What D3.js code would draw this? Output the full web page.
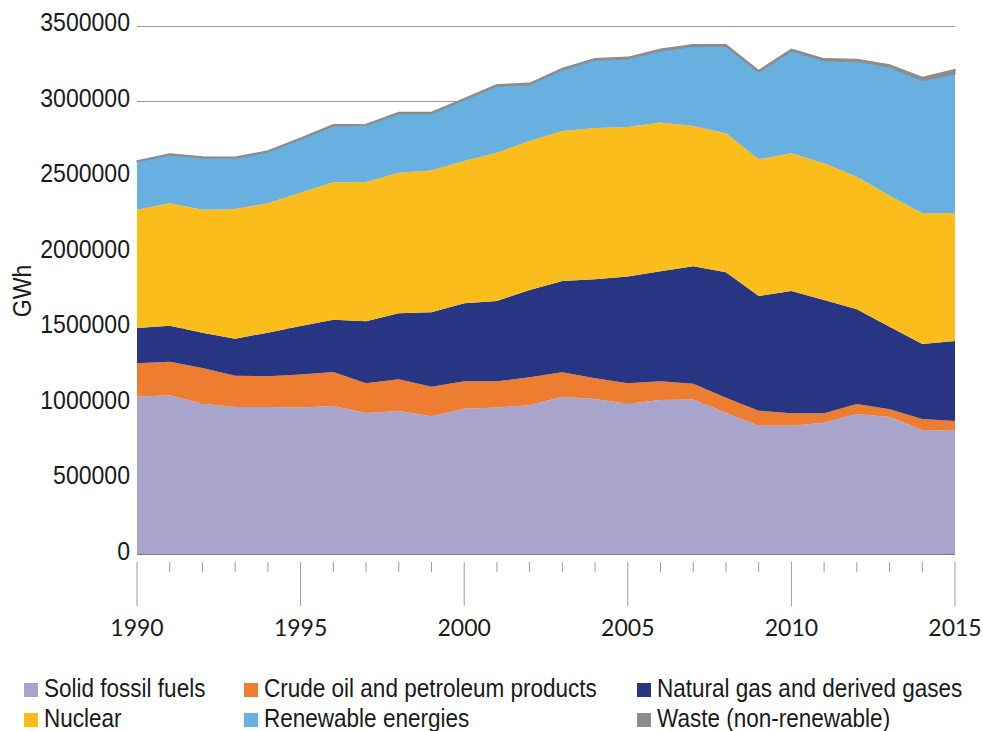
<!DOCTYPE html>
<html>
<head>
<meta charset="utf-8">
<script src="https://cdn.jsdelivr.net/npm/d3@7"></script>
<style>
  body { margin: 0; background: #fff; }
  svg text { fill: #1a1a1a; }
  .cond { font-family: "Liberation Sans", Arial, sans-serif; font-size: 26.5px; }
  .xlab { font-family: Lato, "Open Sans", sans-serif; font-size: 23px; }
</style>
</head>
<body>
<div id="chart"></div>
<script>
var years = [1990,1991,1992,1993,1994,1995,1996,1997,1998,1999,2000,2001,2002,2003,2004,2005,2006,2007,2008,2009,2010,2011,2012,2013,2014,2015];
var solid = [1042000,1051000,995000,973000,973000,971000,980000,934000,947000,912000,962000,971000,985000,1042000,1026000,995000,1020000,1024000,936000,850000,850000,870000,927000,907000,821000,817000];
var oil = [221000,223000,237000,208000,204000,217000,225000,196000,210000,196000,182000,173000,185000,161000,138000,135000,124000,104000,99000,99000,82000,62000,66000,51000,73000,64000];
var gas = [234000,238000,234000,245000,289000,322000,347000,411000,437000,493000,516000,532000,578000,605000,655000,707000,728000,777000,831000,760000,810000,750000,628000,547000,497000,530000];
var nuclear = [783000,811000,814000,859000,857000,883000,910000,923000,931000,938000,943000,982000,987000,993000,1002000,991000,985000,930000,920000,905000,912000,906000,878000,868000,865000,845000];
var renew = [318000,320000,343000,336000,339000,353000,373000,373000,391000,377000,404000,440000,373000,404000,449000,450000,474000,527000,576000,576000,677000,679000,764000,852000,879000,923000];
var waste = [6000,7000,7000,7000,8000,8000,9000,9000,9000,9000,10000,10000,10000,11000,11000,12000,12000,12000,12000,12000,13000,13000,13000,15000,22000,30000];

var seriesNames = ["Solid fossil fuels","Crude oil and petroleum products","Natural gas and derived gases","Nuclear","Renewable energies","Waste (non-renewable)"];
var colors = ["#a8a4cb","#ed7d31","#283583","#fbbd1b","#68b0e0","#8c8c8c"];
var yTicks = [0,500000,1000000,1500000,2000000,2500000,3000000,3500000];
var xLabels = [1990,1995,2000,2005,2010,2015];

var W = 983, H = 731;
var margin = { left: 137, right: 28, top: 25.5, bottom: 177 };
var squeeze = 0.87;    // condensed look for the narrow font
var legSqueeze = 0.85;

var svg = d3.select("#chart").append("svg")
    .attr("width", W)
    .attr("height", H);

var x = d3.scaleLinear().domain([1990, 2015]).range([margin.left, W - margin.right]);
var y = d3.scaleLinear().domain([0, 3500000]).range([H - margin.bottom, margin.top]);

var table = years.map(function (yr, i) {
    return { year: yr, s0: solid[i], s1: oil[i], s2: gas[i], s3: nuclear[i], s4: renew[i], s5: waste[i] };
});
var keys = ["s0","s1","s2","s3","s4","s5"];
var stacked = d3.stack().keys(keys)(table);

// gridlines (mostly hidden under the areas)
svg.append("g").selectAll("line")
    .data(yTicks.slice(1))
    .enter().append("line")
    .attr("x1", x(1990)).attr("x2", x(2015))
    .attr("y1", function (d) { return Math.round(y(d)) + 0.5; })
    .attr("y2", function (d) { return Math.round(y(d)) + 0.5; })
    .attr("stroke", "#9d9d9d")
    .attr("stroke-width", 1.2);

var area = d3.area()
    .x(function (d) { return x(d.data.year); })
    .y0(function (d) { return y(d[0]); })
    .y1(function (d) { return y(d[1]); });

svg.append("g").selectAll("path")
    .data(stacked)
    .enter().append("path")
    .attr("d", area)
    .attr("fill", function (d, i) { return colors[i]; })
    .attr("stroke", function (d, i) { return i == 5 ? colors[i] : "none"; })
    .attr("stroke-width", 1.2);

// y labels
svg.append("g").selectAll("text")
    .data(yTicks)
    .enter().append("text")
    .attr("class", "cond")
    .attr("transform", function (d) { return "translate(130," + (y(d) + 5.5) + ") scale(" + squeeze + ",1)"; })
    .attr("text-anchor", "end")
    .text(function (d) { return d; });

// y axis title
svg.append("text")
    .attr("class", "cond")
    .attr("transform", "translate(31,291) rotate(-90) scale(" + squeeze + ",1)")
    .attr("text-anchor", "middle")
    .text("GWh");

// x axis baseline + ticks
svg.append("line")
    .attr("x1", x(1990)).attr("x2", x(2015))
    .attr("y1", y(0) + 0.5).attr("y2", y(0) + 0.5)
    .attr("stroke", "#7f7f7f").attr("stroke-width", 1.2);

svg.append("g").selectAll("line")
    .data(years)
    .enter().append("line")
    .attr("x1", function (d) { return x(d); })
    .attr("x2", function (d) { return x(d); })
    .attr("y1", 562)
    .attr("y2", function (d) { return d % 5 == 0 ? 606 : 572; })
    .attr("stroke", "#9d9d9d")
    .attr("stroke-width", 1);

svg.append("g").selectAll("text")
    .data(xLabels)
    .enter().append("text")
    .attr("class", "xlab")
    .attr("x", function (d) { return x(d); })
    .attr("y", 636)
    .attr("text-anchor", "middle")
    .text(function (d) { return d; });

// legend
var legPos = [[24,697],[244,697],[637,697],[24,727],[244,727],[637,727]];
var leg = svg.append("g").selectAll("g")
    .data(seriesNames)
    .enter().append("g")
    .attr("transform", function (d, i) { return "translate(" + legPos[i][0] + "," + legPos[i][1] + ")"; });
leg.append("rect")
    .attr("x", 0).attr("y", -14)
    .attr("width", 14).attr("height", 14)
    .attr("fill", function (d, i) { return colors[i]; });
leg.append("text")
    .attr("class", "cond")
    .attr("transform", "translate(20,0) scale(" + legSqueeze + ",1)")
    .text(function (d) { return d; });
</script>
</body>
</html>
